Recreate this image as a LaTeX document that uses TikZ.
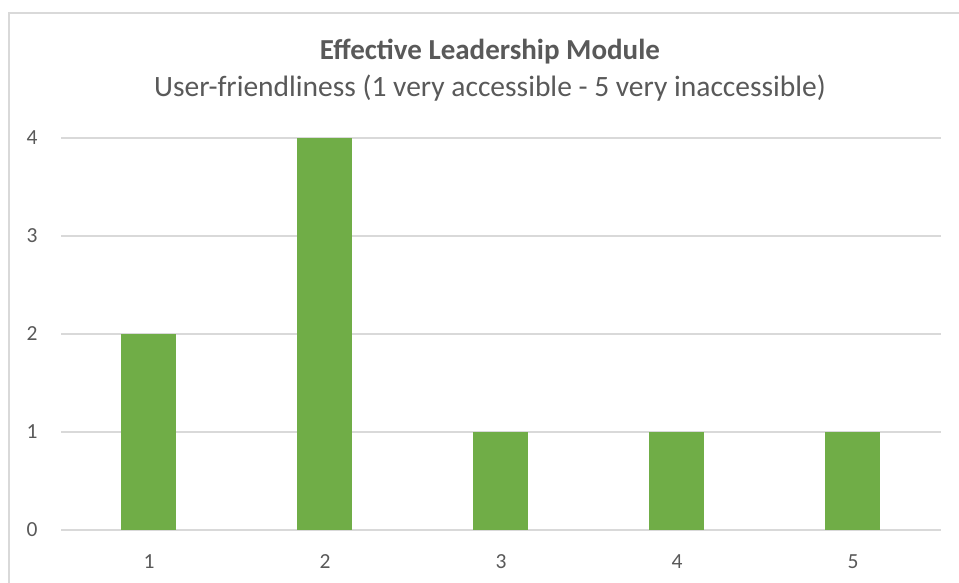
\documentclass[tikz,border=0pt]{standalone}
\usepackage{fontspec}
\setmainfont{Carlito}
\usetikzlibrary{positioning}
\definecolor{bargreen}{HTML}{70AD47}
\definecolor{gridgray}{HTML}{D9D9D9}
\definecolor{labelgray}{HTML}{595959}

\begin{document}
\begin{tikzpicture}[
				x = 1pt, y = -1pt,
				gridline/.style = {draw = gridgray, line width = 1.3pt},
				bar/.style = {fill = bargreen},
				ticklabel/.style = {text = labelgray, inner sep = 0pt, font = \fontsize{21.5}{25}\selectfont},
				titletext/.style = {text = labelgray, inner sep = 0pt}
				]
				\useasboundingbox (0,0) rectangle (959,583);
				% frame of the chart (cut off at right and bottom)
				\draw [gridline] (9,583) -- (9,13) -- (959,13);
				
				% grid and value axis
				\foreach \v in {0,...,4} {
					\draw [gridline] (61,530-98*\v) -- (941,530-98*\v);
					\node [ticklabel] (ylab\v) at (32,530-98*\v) {\v};
				}
				
				% bars
				\foreach \c/\v in {1/2, 2/4, 3/1, 4/1, 5/1} {
					\fill [bar] (121+176*\c-176,530) rectangle (176+176*\c-176,530-98*\v);
					\node [ticklabel] (xlab\c) at (149+176*\c-176,562) {\c};
				}
				
				\node [titletext, font = \fontsize{29}{34}\selectfont\bfseries] (title) at (490,52) {Effective Leadership Module};
				\node [titletext, font = \fontsize{29.5}{35}\selectfont, below = 36pt of title.center, anchor = center] (subtitle) {User-friendliness (1 very accessible - 5 very inaccessible)};
			\end{tikzpicture}
\end{document}
